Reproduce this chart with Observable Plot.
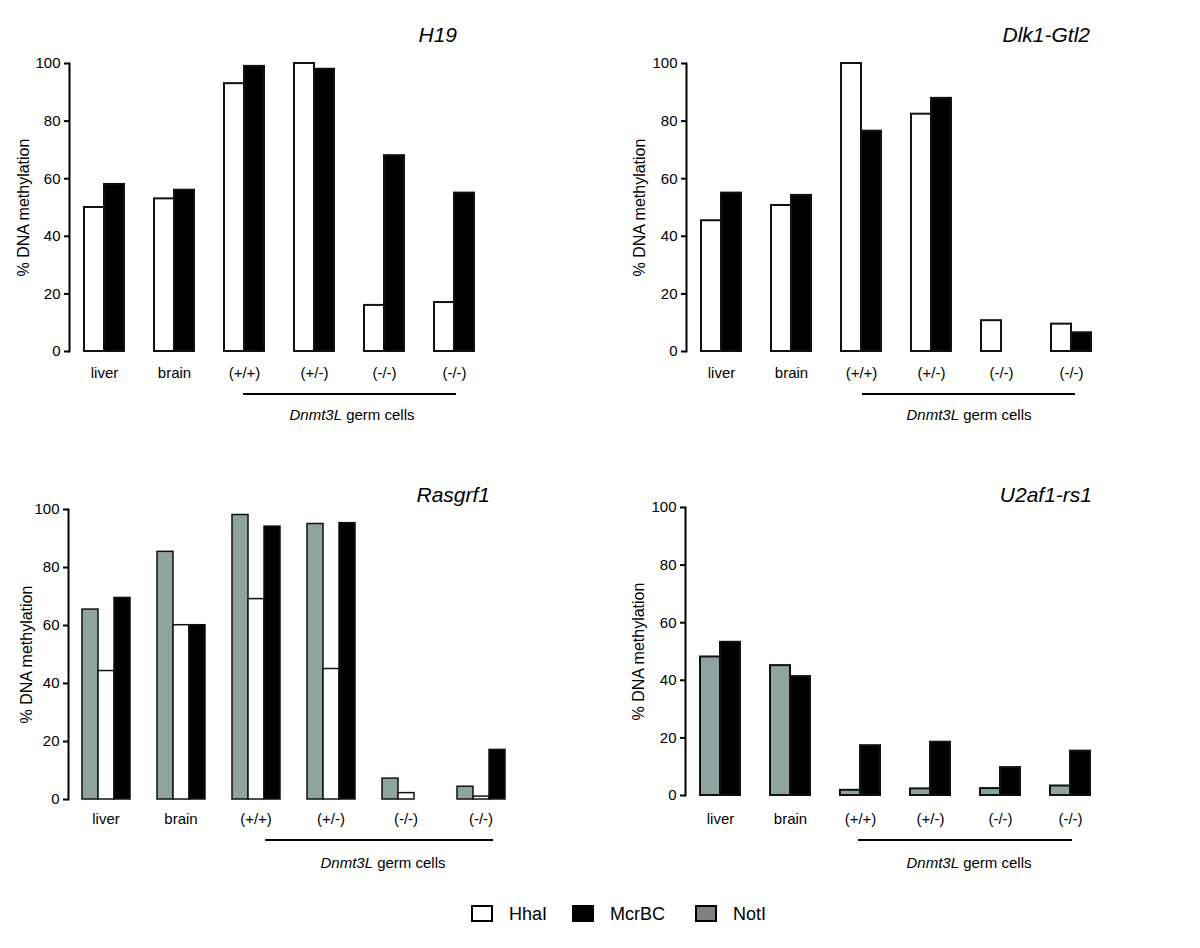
<!DOCTYPE html>
<html>
<head>
<meta charset="utf-8">
<script src="https://cdn.jsdelivr.net/npm/d3@7"></script>
<script src="https://cdn.jsdelivr.net/npm/@observablehq/plot@0.6"></script>
<style>
  html, body { margin: 0; padding: 0; background: #fff; }
  #root { position: relative; width: 1200px; height: 948px; font-family: "Liberation Sans", Arial, sans-serif; color: #000; }
  .panel { position: absolute; }
  .title { position: absolute; font-style: italic; font-size: 21px; line-height: 1; transform: translate(-100%, -50%); white-space: nowrap; }
  .bracket { position: absolute; height: 2px; background: #000; }
  .group { position: absolute; font-size: 15px; line-height: 1; transform: translate(-50%, -50%); white-space: nowrap; }
  .legend { position: absolute; top: 905px; left: 0; width: 1200px; height: 18px; }
  .legend .box { position: absolute; top: 0; width: 22px; height: 17px; box-sizing: border-box; border: 2.5px solid #000; }
  .legend .lab { position: absolute; top: 9px; font-size: 18px; line-height: 1; transform: translateY(-50%); }
</style>
</head>
<body>
<div id="root"></div>
<script>
// ---- data ----
const groups = ["liver", "brain", "(+/+)", "(+/-)", "(-/-)", "(-/-)"];
const seriesNames = ["HhaI", "McrBC", "NotI"];
const seriesColors = ["#ffffff", "#000000", "#8fa39f"];

const h19HhaI  = [50, 53, 93, 100, 16, 17];
const h19McrBC = [58, 56, 99, 98, 68, 55];

const dlkHhaI  = [45.4, 50.7, 100, 82.4, 10.7, 9.5];
const dlkMcrBC = [55, 54.2, 76.5, 87.9, 0, 6.5];

const rasNotI  = [65.5, 85.4, 98.1, 95, 7.2, 4.4];
const rasHhaI  = [44.3, 60.1, 69.1, 45, 2.2, 1];
const rasMcrBC = [69.5, 60.1, 94.1, 95.3, 0, 17.1];

const u2NotI   = [48.1, 45.1, 1.8, 2.3, 2.4, 3.3];
const u2McrBC  = [53.2, 41.3, 17.3, 18.5, 9.7, 15.4];

const yTicks = [0, 20, 40, 60, 80, 100];

// ---- panel builder ----
function rows(seriesMap) {
  const out = [];
  groups.forEach((_, i) => {
    for (const [s, arr] of seriesMap) out.push({g: i, s, v: arr[i]});
  });
  return out;
}

function makePanel(cfg) {
  const data = rows(cfg.series);
  const domain = cfg.series.map(d => d[0]);
  return Plot.plot({
    width: cfg.width,
    height: cfg.height,
    marginLeft: cfg.marginLeft,
    marginRight: cfg.marginRight,
    marginTop: cfg.marginTop,
    marginBottom: cfg.marginBottom,
    style: {fontFamily: '"Liberation Sans", Arial, sans-serif', fontSize: "15px", color: "#000", background: "transparent", overflow: "visible"},
    fx: {domain: d3.range(groups.length), paddingInner: 0, paddingOuter: 0},
    x: {domain, paddingInner: 0, paddingOuter: cfg.innerPad, axis: null},
    y: {domain: [0, 100]},
    color: {domain: seriesNames, range: seriesColors},
    marks: [
      Plot.barY(data, {fx: "g", x: "s", y: "v", fill: "s", stroke: "#111", strokeWidth: cfg.strokeWidth}),
      Plot.frame({anchor: "left", facetAnchor: "left", stroke: "#000", strokeWidth: 2}),
      Plot.axisY({ticks: yTicks, tickSize: 5, tickPadding: 4, strokeWidth: 2, fontSize: 15, label: null}),
      Plot.axisY({ticks: [], tickSize: 0, fontSize: 16,
        label: "% DNA methylation", labelAnchor: "center", labelOffset: cfg.labelOffset, labelArrow: "none"}),
      Plot.axisFx({anchor: "bottom", tickSize: 0, tickPadding: cfg.fxPad, fontSize: 15, label: null,
        tickFormat: i => groups[i]})
    ]
  });
}

const panels = [
  {left: 0, top: 0, width: 600, height: 440, marginLeft: 69, marginRight: 111, marginTop: 63, marginBottom: 89,
   innerPad: 0.707, strokeWidth: 2, labelOffset: 52, fxPad: 16,
   series: [["HhaI", h19HhaI], ["McrBC", h19McrBC]],
   title: "H19", titleX: 457, titleY: 34,
   bracket: [243, 456, 393], groupText: [352, 414]},
  {left: 600, top: 0, width: 600, height: 440, marginLeft: 86, marginRight: 94, marginTop: 63, marginBottom: 89,
   innerPad: 0.707, strokeWidth: 2, labelOffset: 53, fxPad: 16,
   series: [["HhaI", dlkHhaI], ["McrBC", dlkMcrBC]],
   title: "Dlk1-Gtl2", titleX: 1090, titleY: 34,
   bracket: [862, 1075, 393], groupText: [969, 414]},
  {left: 0, top: 440, width: 600, height: 420, marginLeft: 65, marginRight: 80, marginTop: 69, marginBottom: 61,
   innerPad: 0.716, strokeWidth: 1.5, labelOffset: 48, fxPad: 14,
   series: [["NotI", rasNotI], ["HhaI", rasHhaI], ["McrBC", rasMcrBC]],
   title: "Rasgrf1", titleX: 490, titleY: 494,
   bracket: [265, 493, 839], groupText: [383, 862]},
  {left: 600, top: 440, width: 600, height: 420, marginLeft: 85, marginRight: 95, marginTop: 67, marginBottom: 65,
   innerPad: 0.707, strokeWidth: 2, labelOffset: 53, fxPad: 18,
   series: [["NotI", u2NotI], ["McrBC", u2McrBC]],
   title: "U2af1-rs1", titleX: 1092, titleY: 494,
   bracket: [858, 1072, 839], groupText: [969, 862]}
];

const root = document.getElementById("root");
for (const p of panels) {
  const div = document.createElement("div");
  div.className = "panel";
  div.style.left = p.left + "px";
  div.style.top = p.top + "px";
  div.appendChild(makePanel(p));
  root.appendChild(div);

  const t = document.createElement("div");
  t.className = "title";
  t.textContent = p.title;
  t.style.left = p.titleX + "px";
  t.style.top = p.titleY + "px";
  root.appendChild(t);

  const b = document.createElement("div");
  b.className = "bracket";
  b.style.left = p.bracket[0] + "px";
  b.style.width = (p.bracket[1] - p.bracket[0]) + "px";
  b.style.top = p.bracket[2] + "px";
  root.appendChild(b);

  const g = document.createElement("div");
  g.className = "group";
  g.innerHTML = "<i>Dnmt3L</i> germ cells";
  g.style.left = p.groupText[0] + "px";
  g.style.top = p.groupText[1] + "px";
  root.appendChild(g);
}

// ---- legend ----
const legendItems = [
  {name: "HhaI", fill: "#ffffff", box: 471, text: 509},
  {name: "McrBC", fill: "#000000", box: 572, text: 610},
  {name: "NotI", fill: "#808080", box: 695, text: 733}
];
const legend = document.createElement("div");
legend.className = "legend";
for (const it of legendItems) {
  const bx = document.createElement("div");
  bx.className = "box";
  bx.style.left = it.box + "px";
  bx.style.background = it.fill;
  legend.appendChild(bx);
  const lb = document.createElement("div");
  lb.className = "lab";
  lb.style.left = it.text + "px";
  lb.textContent = it.name;
  legend.appendChild(lb);
}
root.appendChild(legend);
</script>
</body>
</html>
